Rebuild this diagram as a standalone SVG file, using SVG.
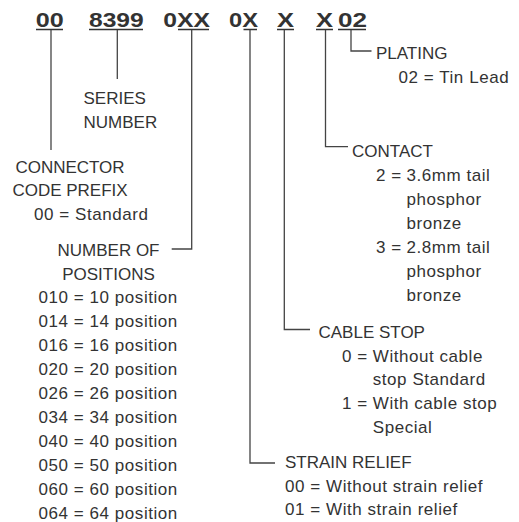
<svg xmlns="http://www.w3.org/2000/svg" width="519" height="522" viewBox="0 0 519 522">
<style>
.h{font-family:"Liberation Sans",Arial,sans-serif;font-weight:bold;font-size:20px;fill:#333}
.t{font-family:"Liberation Sans",Arial,sans-serif;font-size:17px;fill:#333}
.w{letter-spacing:0.55px}
.c{text-anchor:middle}
.ul{stroke:#333;stroke-width:1.5;fill:none}
.cn{stroke:#444;stroke-width:1.3;fill:none}
</style>
<rect width="519" height="522" fill="#fff"/>
<g id="part-number">
<text class="h" x="35.7" y="26.7" textLength="28" lengthAdjust="spacingAndGlyphs">00</text>
<text class="h" x="89" y="26.7" textLength="54.7" lengthAdjust="spacingAndGlyphs">8399</text>
<text class="h" x="163.3" y="26.7" textLength="46.7" lengthAdjust="spacingAndGlyphs">0XX</text>
<text class="h" x="229" y="26.7" textLength="29" lengthAdjust="spacingAndGlyphs">0X</text>
<text class="h" x="277" y="26.7" textLength="17" lengthAdjust="spacingAndGlyphs">X</text>
<text class="h" x="316" y="26.7" textLength="17" lengthAdjust="spacingAndGlyphs">X</text>
<text class="h" x="338" y="26.7" textLength="29" lengthAdjust="spacingAndGlyphs">02</text>
<path class="ul" d="M36 29.5H63M89 29.5H143M178 29.5H209M243.5 29.5H257M277 29.5H294M316 29.5H333M338 29.5H366"/>
</g>
<g id="connectors">
<path class="cn" d="M51 30V150"/>
<path class="cn" d="M117.3 30V79"/>
<path class="cn" d="M191.7 30V249H171.7"/>
<path class="cn" d="M250 30V463H275"/>
<path class="cn" d="M284.3 30V329.5H310"/>
<path class="cn" d="M325.5 30V146.7H348"/>
<path class="cn" d="M351 30V51H371.5"/>
</g>
<g id="series-number">
<text class="t" x="83.5" y="104">SERIES</text>
<text class="t" x="83.5" y="128.3">NUMBER</text>
</g>
<g id="code-prefix">
<text class="t c" x="70" y="172.7">CONNECTOR</text>
<text class="t c" x="70" y="196">CODE PREFIX</text>
<text class="t w" x="34" y="220">00 = Standard</text>
</g>
<g id="positions">
<text class="t c" x="108.5" y="256">NUMBER OF</text>
<text class="t c" x="108.5" y="280">POSITIONS</text>
<text class="t w" x="38.5" y="303">010 = 10 position</text>
<text class="t w" x="38.5" y="327">014 = 14 position</text>
<text class="t w" x="38.5" y="351">016 = 16 position</text>
<text class="t w" x="38.5" y="375">020 = 20 position</text>
<text class="t w" x="38.5" y="399">026 = 26 position</text>
<text class="t w" x="38.5" y="423">034 = 34 position</text>
<text class="t w" x="38.5" y="447">040 = 40 position</text>
<text class="t w" x="38.5" y="471">050 = 50 position</text>
<text class="t w" x="38.5" y="495">060 = 60 position</text>
<text class="t w" x="38.5" y="519">064 = 64 position</text>
</g>
<g id="plating">
<text class="t" x="376" y="59">PLATING</text>
<text class="t w" x="398.5" y="83">02 = Tin Lead</text>
</g>
<g id="contact">
<text class="t" x="352" y="156.7">CONTACT</text>
<text class="t w" x="376" y="180.7">2 =</text>
<text class="t w" x="406.5" y="180.7">3.6mm tail</text>
<text class="t w" x="406.5" y="204.5">phosphor</text>
<text class="t w" x="406.5" y="228.5">bronze</text>
<text class="t w" x="376" y="252.5">3 =</text>
<text class="t w" x="406.5" y="252.5">2.8mm tail</text>
<text class="t w" x="406.5" y="276.5">phosphor</text>
<text class="t w" x="406.5" y="300.5">bronze</text>
</g>
<g id="cable-stop">
<text class="t" x="318.5" y="338.3">CABLE STOP</text>
<text class="t w" x="342" y="361.7">0 =</text>
<text class="t w" x="372.8" y="361.7">Without cable</text>
<text class="t w" x="372.8" y="385">stop Standard</text>
<text class="t w" x="342" y="409">1 =</text>
<text class="t w" x="372.8" y="409">With cable stop</text>
<text class="t w" x="372.8" y="432.7">Special</text>
</g>
<g id="strain-relief">
<text class="t" x="285" y="468.3">STRAIN RELIEF</text>
<text class="t w" x="285" y="491.7">00 = Without strain relief</text>
<text class="t w" x="285" y="515">01 = With strain relief</text>
</g>
</svg>
